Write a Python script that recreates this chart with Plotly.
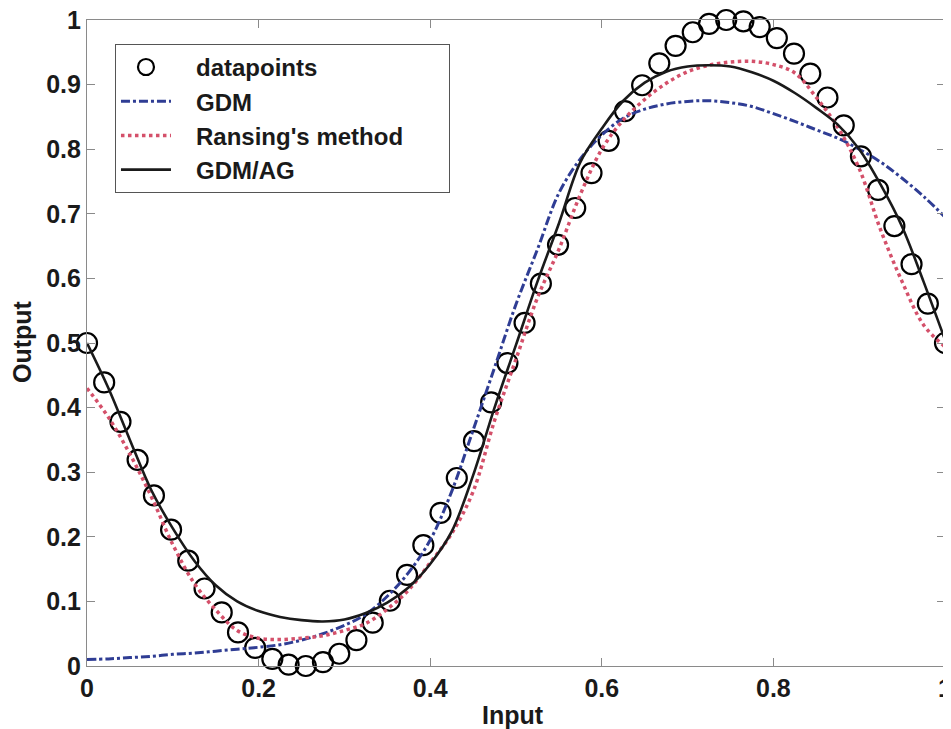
import plotly.graph_objects as go

# ---- data ----
input_points = [0.000, 0.020, 0.039, 0.059, 0.078, 0.098, 0.118, 0.137, 0.157, 0.176,
                0.196, 0.216, 0.235, 0.255, 0.275, 0.294, 0.314, 0.333, 0.353, 0.373,
                0.392, 0.412, 0.431, 0.451, 0.471, 0.490, 0.510, 0.529, 0.549, 0.569,
                0.588, 0.608, 0.627, 0.647, 0.667, 0.686, 0.706, 0.725, 0.745, 0.765,
                0.784, 0.804, 0.824, 0.843, 0.863, 0.882, 0.902, 0.922, 0.941, 0.961,
                0.980, 1.000]
output_points = [0.500, 0.439, 0.378, 0.319, 0.264, 0.211, 0.163, 0.120, 0.083, 0.052,
                 0.028, 0.011, 0.002, 0.000, 0.006, 0.019, 0.040, 0.067, 0.101, 0.141,
                 0.187, 0.237, 0.291, 0.348, 0.408, 0.469, 0.531, 0.592, 0.652, 0.709,
                 0.763, 0.813, 0.859, 0.899, 0.933, 0.960, 0.981, 0.994, 1.000, 0.998,
                 0.989, 0.972, 0.948, 0.917, 0.880, 0.837, 0.789, 0.737, 0.681, 0.622,
                 0.561, 0.500]

curve_x = [0.000, 0.025, 0.050, 0.075, 0.100, 0.125, 0.150, 0.175, 0.200, 0.225,
           0.250, 0.275, 0.300, 0.325, 0.350, 0.375, 0.400, 0.425, 0.450, 0.475,
           0.500, 0.525, 0.550, 0.575, 0.600, 0.625, 0.650, 0.675, 0.700, 0.725,
           0.750, 0.775, 0.800, 0.825, 0.850, 0.875, 0.900, 0.925, 0.950, 0.975,
           1.000]
gdm = [0.010, 0.011, 0.013, 0.015, 0.018, 0.020, 0.023, 0.026, 0.029, 0.033,
       0.040, 0.050, 0.063, 0.080, 0.108, 0.145, 0.195, 0.270, 0.365, 0.462,
       0.560, 0.645, 0.732, 0.785, 0.822, 0.848, 0.862, 0.870, 0.874, 0.875,
       0.872, 0.866, 0.855, 0.843, 0.830, 0.817, 0.800, 0.780, 0.755, 0.727,
       0.695]
ransing = [0.430, 0.385, 0.328, 0.262, 0.188, 0.128, 0.087, 0.055, 0.043, 0.041,
           0.043, 0.047, 0.055, 0.066, 0.088, 0.118, 0.160, 0.205, 0.270, 0.380,
           0.475, 0.570, 0.645, 0.730, 0.800, 0.845, 0.877, 0.902, 0.920, 0.930,
           0.935, 0.936, 0.931, 0.918, 0.880, 0.834, 0.770, 0.675, 0.595, 0.528,
           0.494]
gdm_ag = [0.500, 0.430, 0.350, 0.272, 0.213, 0.163, 0.125, 0.100, 0.085, 0.076,
          0.071, 0.069, 0.072, 0.082, 0.098, 0.122, 0.158, 0.208, 0.295, 0.400,
          0.497, 0.595, 0.685, 0.780, 0.832, 0.875, 0.903, 0.920, 0.928, 0.930,
          0.928, 0.919, 0.906, 0.887, 0.864, 0.838, 0.800, 0.745, 0.680, 0.595,
          0.505]

series_names = ["datapoints", "GDM", "Ransing's method", "GDM/AG"]

x_ticks = [0, 0.2, 0.4, 0.6, 0.8, 1]
x_tick_labels = ["0", "0.2", "0.4", "0.6", "0.8", "1"]
y_ticks = [0, 0.1, 0.2, 0.3, 0.4, 0.5, 0.6, 0.7, 0.8, 0.9, 1]
y_tick_labels = ["0", "0.1", "0.2", "0.3", "0.4", "0.5", "0.6", "0.7", "0.8", "0.9", "1"]

FONT = "Liberation Sans, Arial, sans-serif"
TXT = "#1a1a1a"
NB = "\u00a0"


def legend_name(s, trail=0):
    return NB * 3 + "<b>" + s + "</b>" + NB * trail


fig = go.Figure()
fig.add_trace(go.Scatter(
    x=input_points, y=output_points, mode="markers", name=legend_name(series_names[0]),
    marker=dict(symbol="circle-open", size=20, color="black", line=dict(width=2.2, color="black")),
    cliponaxis=False))
fig.add_trace(go.Scatter(
    x=curve_x, y=gdm, mode="lines", name=legend_name(series_names[1]), line_shape="spline",
    line=dict(color="#2f3d94", width=3, dash="dashdot")))
fig.add_trace(go.Scatter(
    x=curve_x, y=ransing, mode="lines", name=legend_name(series_names[2], 6), line_shape="spline",
    line=dict(color="#d4506a", width=3.5, dash="dot")))
fig.add_trace(go.Scatter(
    x=curve_x, y=gdm_ag, mode="lines", name=legend_name(series_names[3]), line_shape="spline",
    line=dict(color="#1a1a1a", width=2.6)))

axis_common = dict(
    showgrid=False, zeroline=False, showline=True, mirror="ticks", automargin=False,
    linecolor="#8a8a8a", linewidth=1.2, ticks="inside", ticklen=8,
    tickcolor="#8a8a8a", tickfont=dict(family=FONT, size=25, color=TXT),
    ticklabeloverflow="allow",
)
fig.update_xaxes(range=[0, 1], tickvals=x_ticks, ticktext=["<b>%s</b>" % t for t in x_tick_labels],
                 **axis_common)
fig.update_yaxes(range=[0, 1], tickvals=y_ticks, ticktext=["<b>%s</b>" % t for t in y_tick_labels],
                 **axis_common)

fig.add_annotation(text="<b>Input</b>", xref="paper", yref="paper", x=0.4965, y=-0.0759,
                   xanchor="center", yanchor="middle", showarrow=False,
                   font=dict(family=FONT, size=25, color=TXT))
fig.add_annotation(text="<b>Output</b>", xref="paper", yref="paper", x=-0.0758, y=0.503,
                   xanchor="center", yanchor="middle", showarrow=False, textangle=-90,
                   font=dict(family=FONT, size=25, color=TXT))

# page body adds an 8px offset, so the figure is sized to fill the remaining window
fig.update_layout(
    width=943, height=721,
    margin=dict(l=79, r=6, t=12, b=63),
    paper_bgcolor="white", plot_bgcolor="white",
    legend=dict(x=0.0326, y=0.963, xanchor="left", yanchor="top",
                bgcolor="white", bordercolor="#555555", borderwidth=1,
                font=dict(family=FONT, size=24, color=TXT),
                itemwidth=50, tracegroupgap=0),
)

fig.write_html("out.html")
